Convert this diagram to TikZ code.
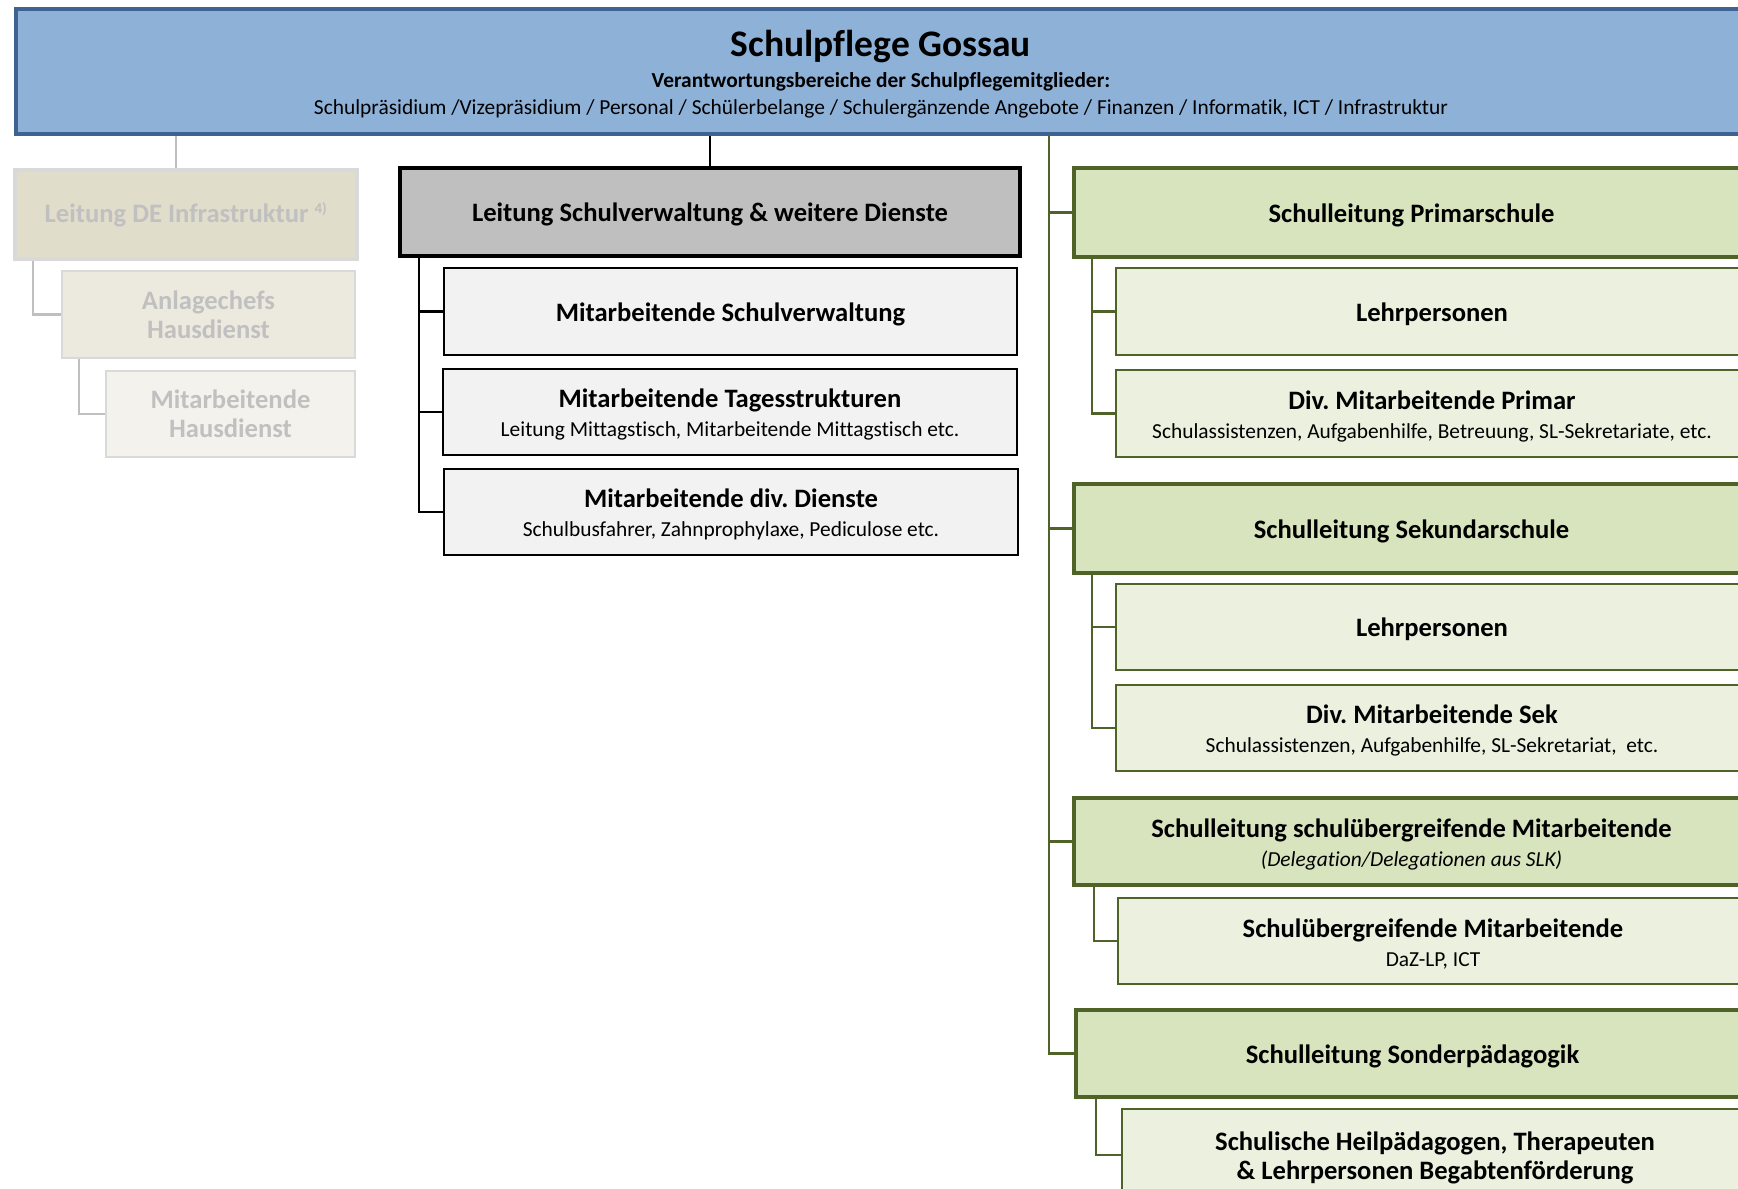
\documentclass[tikz,border=0pt]{standalone}
\usepackage{fontspec}
\setmainfont{Carlito}[Ligatures=NoCommon]
\usetikzlibrary{calc,backgrounds}
\definecolor{topfill}{HTML}{8EB1D8}
\definecolor{topdraw}{HTML}{3F6290}
\definecolor{headgray}{HTML}{BFBFBF}
\definecolor{childgray}{HTML}{F2F2F2}
\definecolor{greenfill}{HTML}{D7E4BD}
\definecolor{greenlight}{HTML}{EBF1DE}
\definecolor{greendraw}{HTML}{4F6228}
\definecolor{beige1}{HTML}{E0DDCB}
\definecolor{beige2}{HTML}{ECEADF}
\definecolor{beige3}{HTML}{F4F2EC}
\definecolor{fadeline}{HTML}{D9D9D9}
\definecolor{fadetext}{HTML}{C0C0C0}
\definecolor{fadeconn}{HTML}{BFBFBF}
\newcommand\fhead{\fontsize{26.6}{29}\selectfont\bfseries}
\newcommand\fsmall{\fontsize{21.4}{25}\selectfont\mdseries}
\newcommand\fsmallit{\fontsize{21.4}{25}\selectfont\mdseries\itshape}
\newcommand\tp{\rule{0pt}{24pt}}
\frenchspacing
\begin{document}
\begin{tikzpicture}[x=1pt,y=-1pt,
  boxbase/.style={rectangle, anchor=north west, inner sep=0pt, align=center, text=black, font=\fhead},
  topbox/.style={boxbase, fill=topfill, draw=topdraw, line width=4pt},
  grayhead/.style={boxbase, fill=headgray, draw=black, line width=4pt},
  graychild/.style={boxbase, fill=childgray, draw=black, line width=2pt},
  greenhead/.style={boxbase, fill=greenfill, draw=greendraw, line width=4pt},
  greenchild/.style={boxbase, fill=greenlight, draw=greendraw, line width=2pt},
  fadehead/.style={boxbase, fill=beige1, draw=fadeline, line width=4pt, text=fadetext},
  fadechild/.style={boxbase, fill=beige2, draw=fadeline, line width=2pt, text=fadetext},
  fadegrand/.style={boxbase, fill=beige3, draw=fadeline, line width=2pt, text=fadetext},
  blackconn/.style={draw=black, line width=2.8pt},
  greenconn/.style={draw=greendraw, line width=2.8pt},
  fadeconnector/.style={draw=fadeconn, line width=2.8pt},
  toptext/.style={anchor=base, inner sep=0pt, text=black}
]
\useasboundingbox (0,0) rectangle (1738,1189);
\clip (0,0) rectangle (1738,1189);

% top box
\node[topbox, minimum width=1734, minimum height=125] (top) at (14,7) {};
\node[toptext, font=\fontsize{37.5}{40}\selectfont\bfseries] (t1) at (881,56) {Schulpflege Gossau};
\node[toptext, font=\fontsize{21.4}{25}\selectfont\bfseries] (t2) at (881,87) {Verantwortungsbereiche der Schulpflegemitglieder:};
\node[toptext, font=\fontsize{21.4}{25}\selectfont] (t3) at (881,114) {Schulpräsidium /Vizepräsidium / Personal / Schülerbelange / Schulergänzende Angebote / Finanzen / Informatik, ICT / Infrastruktur};

% faded left group
\node[fadehead, minimum width=342, minimum height=89] (lde) at (13,168) {Leitung DE Infrastruktur \textsuperscript{\fontsize{15}{17}\selectfont 4)}};
\node[fadechild, minimum width=293, minimum height=87] (anl) at (61,270) {Anlagechefs\\Hausdienst};
\node[fadegrand, minimum width=249, minimum height=86] (mhd) at (105,370) {Mitarbeitende\\Hausdienst};

% middle group
\node[grayhead, minimum width=620, minimum height=88] (lsv) at (398,166) {\tp Leitung Schulverwaltung \& weitere Dienste};
\node[graychild, minimum width=573, minimum height=87] (msv) at (443,267) {\tp Mitarbeitende Schulverwaltung};
\node[graychild, minimum width=574, minimum height=86] (mts) at (442,368) {\tp Mitarbeitende Tagesstrukturen\\{\fsmall Leitung Mittagstisch, Mitarbeitende Mittagstisch etc.}};
\node[graychild, minimum width=574, minimum height=86] (mdd) at (443,468) {\tp Mitarbeitende div. Dienste\\{\fsmall Schulbusfahrer, Zahnprophylaxe, Pediculose etc.}};

% right group
\node[greenhead, minimum width=675, minimum height=89] (slp) at (1072,166) {\tp Schulleitung Primarschule};
\node[greenchild, minimum width=632, minimum height=87] (lp1) at (1115,267) {\tp Lehrpersonen};
\node[greenchild, minimum width=632, minimum height=87] (dmp) at (1115,369) {\tp Div. Mitarbeitende Primar\\{\fsmall Schulassistenzen, Aufgabenhilfe, Betreuung, SL-Sekretariate, etc.}};
\node[greenhead, minimum width=675, minimum height=89] (sls) at (1072,482) {\tp Schulleitung Sekundarschule};
\node[greenchild, minimum width=632, minimum height=86] (lp2) at (1115,583) {\tp Lehrpersonen};
\node[greenchild, minimum width=632, minimum height=86] (dms) at (1115,684) {\tp Div. Mitarbeitende Sek\\{\fsmall Schulassistenzen, Aufgabenhilfe, SL-Sekretariat,\ \ etc.}};
\node[greenhead, minimum width=675, minimum height=87] (slu) at (1072,796) {\tp Schulleitung schulübergreifende Mitarbeitende\\{\fsmallit (Delegation/Delegationen aus SLK)}};
\node[greenchild, minimum width=630, minimum height=86] (sum) at (1117,897) {\tp Schulübergreifende Mitarbeitende\\{\fsmall DaZ-LP, ICT}};
\node[greenhead, minimum width=673, minimum height=87] (slsp) at (1074,1008) {\tp Schulleitung Sonderpädagogik};
\node[greenchild, minimum width=626, minimum height=92] (shp) at (1121,1108) {\tp Schulische Heilpädagogen, Therapeuten\\\& Lehrpersonen Begabtenförderung};

\begin{scope}[on background layer]
\fill[white] (0,0) rectangle (1738,1189);
% faded connectors
\coordinate (gtop) at (176,132);
\draw[fadeconnector] (gtop) -- (gtop |- lde.north);
\draw[fadeconnector] ($(lde.south west)+(20,0)$) |- (anl.west);
\draw[fadeconnector] ($(anl.south west)+(18,0)$) |- (mhd.west);
% black connectors
\draw[blackconn] (top.south -| lsv.north) -- (lsv.north);
\coordinate (btrunk) at ($(lsv.south west)+(21,0)$);
\draw[blackconn] (btrunk) |- (msv.west);
\draw[blackconn] (btrunk) |- (mts.west);
\draw[blackconn] (btrunk) |- (mdd.west);
% green connectors
\coordinate (gtrunk) at (1049,132);
\draw[greenconn] (gtrunk) |- (slp.west);
\draw[greenconn] (gtrunk) |- (sls.west);
\draw[greenconn] (gtrunk) |- (slu.west);
\draw[greenconn] (gtrunk) |- (slsp.west);
\coordinate (gp) at ($(slp.south west)+(20,0)$);
\draw[greenconn] (gp) |- (lp1.west);
\draw[greenconn] (gp) |- (dmp.west);
\coordinate (gs) at ($(sls.south west)+(20,0)$);
\draw[greenconn] (gs) |- (lp2.west);
\draw[greenconn] (gs) |- (dms.west);
\coordinate (gu) at ($(slu.south west)+(22,0)$);
\draw[greenconn] (gu) |- (sum.west);
\coordinate (gsp) at ($(slsp.south west)+(22,0)$);
\draw[greenconn] (gsp) |- (shp.west);
\end{scope}
\end{tikzpicture}
\end{document}
